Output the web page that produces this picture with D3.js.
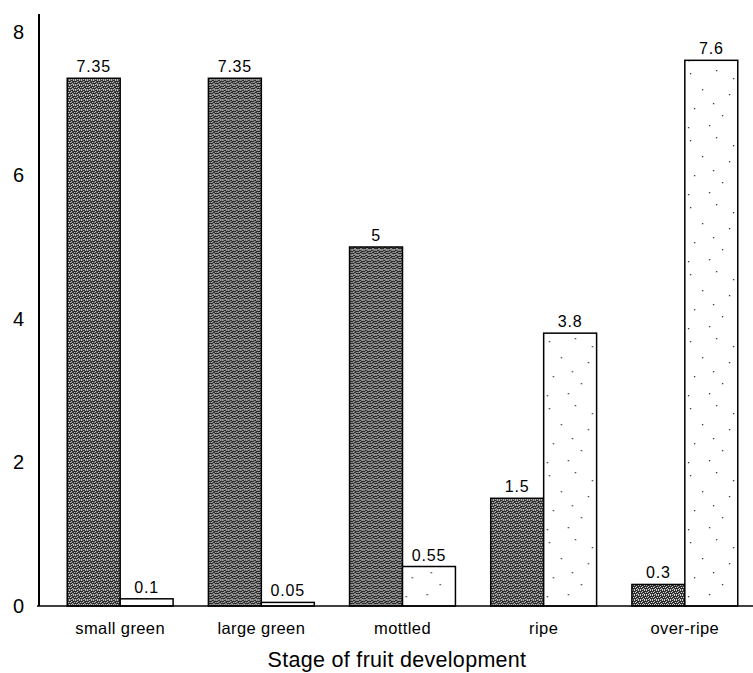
<!DOCTYPE html>
<html>
<head>
<meta charset="utf-8">
<script src="https://cdn.jsdelivr.net/npm/d3@7"></script>
<style>
  body { margin: 0; background: #fff; }
  text { font-family: "Liberation Sans", Arial, sans-serif; fill: #000; }
</style>
</head>
<body>
<svg width="753" height="673"></svg>
<script>
// data
const stages = ["small green", "large green", "mottled", "ripe", "over-ripe"];
const seriesNames = ["dark", "light"];
const darkValues = [7.35, 7.35, 5, 1.5, 0.3];
const lightValues = [0.1, 0.05, 0.55, 3.8, 7.6];
const darkLabels = ["7.35", "7.35", "5", "1.5", "0.3"];
const lightLabels = ["0.1", "0.05", "0.55", "3.8", "7.6"];
const yTicks = [0, 2, 4, 6, 8];

const svg = d3.select("svg");
const axisX = 39;
const baseY = 606;

// patterns
const defs = svg.append("defs");
const dark = defs.append("pattern")
  .attr("id", "darkFill")
  .attr("patternUnits", "userSpaceOnUse")
  .attr("width", 6).attr("height", 5);
dark.append("rect").attr("width", 6).attr("height", 5).attr("fill", "#2a2a2a");
[[0, 0], [2, 0], [4, 1], [1, 2], [3, 2], [5, 3], [0, 4], [2, 4], [4, 4]].forEach(p => {
  dark.append("rect").attr("x", p[0]).attr("y", p[1])
    .attr("width", 1).attr("height", 1).attr("fill", "#e8e8e8");
});

const light = defs.append("pattern")
  .attr("id", "lightFill")
  .attr("patternUnits", "userSpaceOnUse")
  .attr("width", 53).attr("height", 67);
light.append("rect").attr("width", 53).attr("height", 67).attr("fill", "#fff");
[[5, 6], [31, 3], [17, 22], [44, 27], [9, 41], [37, 48], [24, 58], [48, 11], [3, 60], [28, 36]].forEach(p => {
  light.append("rect").attr("x", p[0]).attr("y", p[1])
    .attr("width", 1.3).attr("height", 1.3).attr("fill", "#333");
});

// scales
const x0 = d3.scaleBand()
  .domain(stages)
  .range([axisX, 766])
  .paddingInner(0.25)
  .paddingOuter(0.2);

const x1 = d3.scaleBand()
  .domain(seriesNames)
  .range([0, x0.bandwidth()]);

const y = d3.scaleLinear()
  .domain([0, 8])
  .range([baseY, baseY - 8 * 71.8]);

const rows = stages.map((s, i) => ({
  stage: s,
  bars: [
    { key: "dark", value: darkValues[i], label: darkLabels[i] },
    { key: "light", value: lightValues[i], label: lightLabels[i] }
  ]
}));

const groups = svg.append("g").selectAll("g")
  .data(rows)
  .join("g")
  .attr("transform", d => `translate(${x0(d.stage)},0)`);

groups.selectAll("rect")
  .data(d => d.bars)
  .join("rect")
  .attr("x", d => x1(d.key))
  .attr("y", d => y(d.value))
  .attr("width", x1.bandwidth())
  .attr("height", d => y(0) - y(d.value))
  .attr("fill", d => d.key === "dark" ? "url(#darkFill)" : "url(#lightFill)")
  .attr("stroke", "#000")
  .attr("stroke-width", 1.5);

groups.selectAll("text")
  .data(d => d.bars)
  .join("text")
  .attr("x", d => x1(d.key) + x1.bandwidth() / 2)
  .attr("y", d => y(d.value) - 6)
  .attr("text-anchor", "middle")
  .attr("font-size", 16)
  .attr("letter-spacing", 0.8)
  .text(d => d.label);

// baseline
svg.append("line")
  .attr("x1", axisX - 2).attr("x2", 753)
  .attr("y1", baseY).attr("y2", baseY)
  .attr("stroke", "#000").attr("stroke-width", 1.5);

// y axis
const yAxis = d3.axisLeft(y)
  .tickValues(yTicks)
  .tickSize(0)
  .tickPadding(15)
  .tickFormat(d3.format("d"));

const yg = svg.append("g")
  .attr("transform", `translate(${axisX},0)`)
  .call(yAxis);
yg.select(".domain").remove();
yg.selectAll("text")
  .attr("font-size", 20)
  .attr("font-family", "Liberation Sans, Arial, sans-serif");
yg.append("line")
  .attr("y1", 14).attr("y2", baseY)
  .attr("stroke", "#000").attr("stroke-width", 2);

// x axis category labels
const xAxis = d3.axisBottom(x0).tickSize(0).tickPadding(16);
const xg = svg.append("g")
  .attr("transform", `translate(0,${baseY})`)
  .call(xAxis);
xg.select(".domain").remove();
xg.selectAll("text")
  .attr("font-size", 16.5)
  .attr("letter-spacing", 0.4)
  .attr("font-family", "Liberation Sans, Arial, sans-serif");

svg.append("text")
  .attr("x", 397)
  .attr("y", 667)
  .attr("text-anchor", "middle")
  .attr("font-size", 21.5)
  .attr("letter-spacing", 0.3)
  .text("Stage of fruit development");
</script>
</body>
</html>
